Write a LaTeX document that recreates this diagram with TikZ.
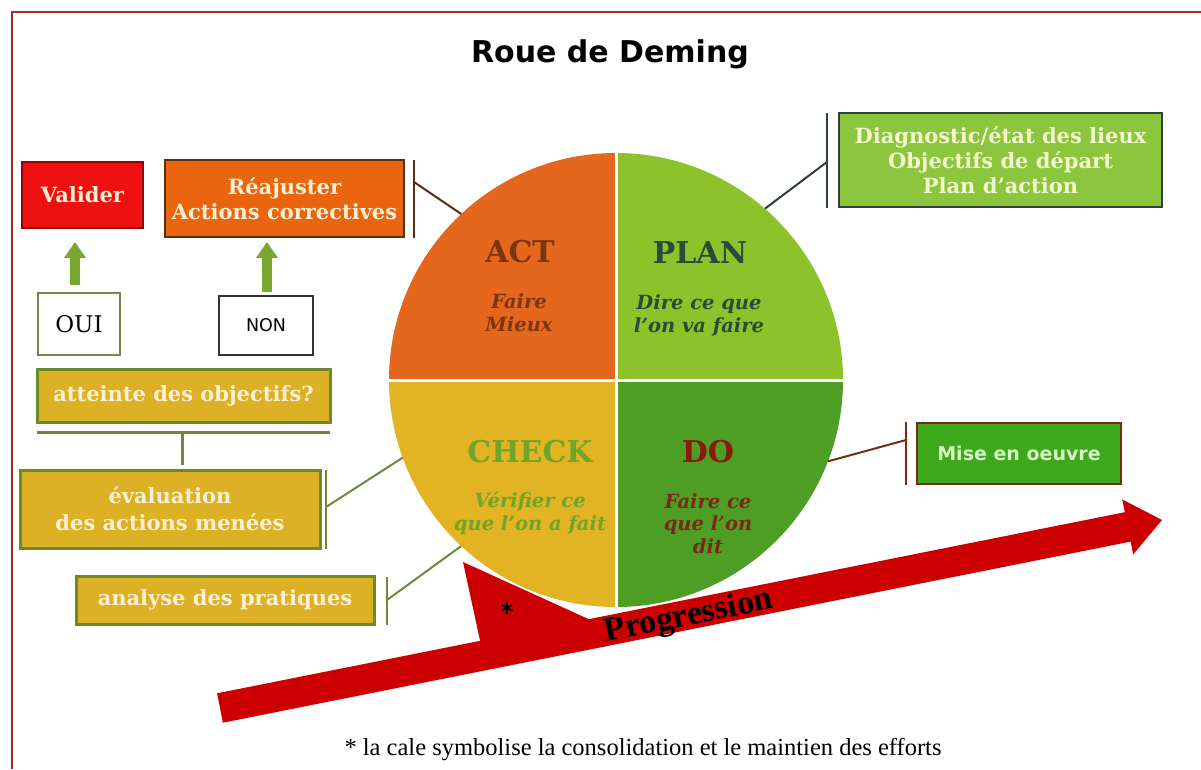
\documentclass[tikz,border=0pt]{standalone}
\usepackage{fontspec}
\setmainfont{DejaVu Serif}
\newfontfamily\djsans{DejaVu Sans}
\newfontfamily\libserif{Liberation Serif}
\usetikzlibrary{arrows.meta,calc}
\definecolor{actc}{HTML}{E5661D}
\definecolor{planc}{HTML}{8DC22A}
\definecolor{checkc}{HTML}{E2B322}
\definecolor{doc}{HTML}{4E9E25}
\definecolor{acttxt}{HTML}{7B3510}
\definecolor{plantxt}{HTML}{2B4A38}
\definecolor{checktxt}{HTML}{6FA52A}
\definecolor{dotxt}{HTML}{8B1A0A}
\definecolor{redbox}{HTML}{EE1111}
\definecolor{orangebox}{HTML}{EA6510}
\definecolor{goldbox}{HTML}{DDB125}
\definecolor{olivec}{HTML}{6A8A2C}
\definecolor{limebox}{HTML}{8CC63F}
\definecolor{darkslate}{HTML}{2F3F3A}
\definecolor{greenbox}{HTML}{3DA81A}
\definecolor{brownline}{HTML}{5A2D14}
\definecolor{maroonc}{HTML}{7A2A14}
\definecolor{creamc}{HTML}{FDF0D2}
\definecolor{diagtxt}{HTML}{F2F7CC}
\definecolor{misetxt}{HTML}{D8F5C8}
\definecolor{progred}{HTML}{CC0000}
\definecolor{framec}{HTML}{A52A2A}
\definecolor{garrowc}{HTML}{78A830}
\begin{document}
\begin{tikzpicture}[x=1pt,y=-1pt,
  basebox/.style={rectangle, inner sep=0pt, outer sep=0pt, align=center},
  boxtext/.style={text=creamc, font=\fontsize{21}{25}\selectfont\bfseries},
  goldstyle/.style={basebox, boxtext, fill=goldbox, draw=olivec, line width=3},
  bracketline/.style={line width=2.5},
  garrow/.style={draw=garrowc, line width=10, -{Triangle[width=21pt,length=16pt]}},
  wheelhead/.style={font=\fontsize{30}{34}\selectfont\bfseries, anchor=base},
  wheelsub/.style={font=\fontsize{19.5}{23}\selectfont\bfseries\itshape, anchor=base, align=center},
]
\useasboundingbox (0,0) rectangle (1201,769);
\fill[white] (0,0) rectangle (1201,769);
% frame
\draw[framec, line width=1.5] (12,769) -- (12,12) -- (1201,12);

% title
\node[font=\djsans\fontsize{30}{34}\selectfont\bfseries, anchor=base] (title) at (610,62) {Roue de Deming};

% wheel
\coordinate (wheel) at (616,380);
\coordinate (wact) at ($(wheel)+(-133:227)$);
\coordinate (wplan) at ($(wheel)+(-49:227)$);
\coordinate (weval) at ($(wheel)+(-200:227)$);
\coordinate (wana) at ($(wheel)+(-227:227)$);
\coordinate (wdo) at ($(wheel)+(-339:227)$);
\begin{scope}
  \clip (wheel) circle (227);
  \fill[actc] (380,140) rectangle (616,380);
  \fill[planc] (616,140) rectangle (850,380);
  \fill[checkc] (380,380) rectangle (616,620);
  \fill[doc] (616,380) rectangle (850,620);
  \draw[white, line width=3] (616,140) -- (616,620);
  \draw[white, line width=3] (380,380) -- (850,380);
\end{scope}

\node[wheelhead, text=acttxt] (act) at (520,262) {ACT};
\node[wheelsub, text=acttxt] (actsub) at (519,331) {Faire\\Mieux};
\node[wheelhead, text=plantxt] (plan) at (700,263) {PLAN};
\node[wheelsub, text=plantxt] (plansub) at (699,332) {Dire ce que\\l'on va faire};
\node[wheelhead, text=checktxt] (check) at (530,462) {CHECK};
\node[wheelsub, text=checktxt] (checksub) at (530,530) {Vérifier ce\\que l'on a fait};
\node[wheelhead, text=dotxt] (do) at (708,462) {DO};
\node[wheelsub, text=maroonc, font=\fontsize{19.5}{22.5}\selectfont\bfseries\itshape] (dosub) at (708,553) {Faire ce\\que l'on\\dit};

% left boxes
\node[basebox, boxtext, fill=redbox, draw=red!60!black, line width=1.5,
      minimum width=121, minimum height=66] (valider) at (82.5,195) {Valider};
\node[basebox, boxtext, fill=orangebox, draw=brownline, line width=2.5,
      minimum width=239, minimum height=77, font=\fontsize{21}{25}\selectfont\bfseries] (reaj) at (284.5,198.5) {Réajuster\\Actions correctives};
\node[basebox, draw=olivec!60!gray, line width=1.2, fill=white,
      minimum width=82, minimum height=62, font=\fontsize{23}{26}\selectfont] (oui) at (79,324) {OUI};
\node[basebox, draw=black!80, line width=1.2, fill=white,
      minimum width=94, minimum height=59, font=\djsans\fontsize{17.5}{21}\selectfont] (non) at (266,325.5) {NON};
\node[goldstyle, minimum width=293, minimum height=53] (atteinte) at (183.5,395.5) {atteinte des objectifs?};
\node[goldstyle, minimum width=300, minimum height=78, font=\fontsize{21}{27}\selectfont\bfseries] (eval) at (170,509) {évaluation\\des actions menées};
\node[goldstyle, minimum width=298, minimum height=48] (analyse) at (225,600) {analyse des pratiques};

% right boxes
\node[basebox, fill=limebox, draw=darkslate, line width=2.5, text=diagtxt,
      minimum width=323, minimum height=94, font=\fontsize{21}{25}\selectfont\bfseries] (diag) at (1000.5,160) {Diagnostic/état des lieux\\Objectifs de départ\\Plan d'action};
\node[basebox, fill=greenbox, draw=maroonc, line width=2.5, text=misetxt,
      minimum width=204, minimum height=61, font=\djsans\fontsize{19}{22}\selectfont\bfseries] (mise) at (1019,453.5) {Mise en oeuvre};

% green up arrows
\draw[garrow] ($(oui.north)+(-4,-8)$) -- ($(valider.south)+(-7.5,14)$);
\draw[garrow] ($(non.north)+(1,-4)$) -- ($(reaj.south)+(-17.5,5)$);

% bracket for Réajuster
\coordinate (rbt) at (414,160);
\coordinate (rbb) at (414,238);
\coordinate (rbm) at (414,182);
\draw[brownline, bracketline] (rbt) -- (rbb);
\draw[brownline, line width=2] (rbm) -- (wact);

% atteinte -> evaluation
\coordinate (hl1) at (37,432);
\coordinate (hl2) at (330,432);
\coordinate (hlm) at (182,432);
\coordinate (hld) at (182,465);
\draw[olivec!80!gray, line width=3] (hl1) -- (hl2);
\draw[olivec!80!gray, line width=3] (hlm) -- (hld);

% evaluation bracket
\coordinate (ebt) at (326,470);
\coordinate (ebb) at (326,549);
\coordinate (ebm) at (326,507);
\draw[olivec!80!gray, bracketline] (ebt) -- (ebb);
\draw[olivec!80!gray, line width=2] (ebm) -- (weval);

% analyse bracket
\coordinate (abt) at (387,577);
\coordinate (abb) at (387,625);
\coordinate (abm) at (387,600);
\draw[olivec!80!gray, bracketline] (abt) -- (abb);
\draw[olivec!80!gray, line width=2] (abm) -- (wana);

% diagnostic bracket
\coordinate (dbt) at (827,113);
\coordinate (dbb) at (827,208);
\coordinate (dbm) at (827,162);
\draw[darkslate, bracketline] (dbt) -- (dbb);
\draw[darkslate, line width=2] (dbm) -- (wplan);

% mise en oeuvre bracket
\coordinate (mbt) at (906,422);
\coordinate (mbb) at (906,485);
\coordinate (mbm) at (906,440);
\draw[maroonc, bracketline] (mbt) -- (mbb);
\draw[maroonc, line width=2] (mbm) -- (wdo);

% wedge (cale)
\coordinate (w1) at (463,562);
\coordinate (w2) at (481,645);
\coordinate (w3) at (595,622);
\fill[progred] (w1) -- (w2) -- (w3) -- cycle;
\node[font=\fontsize{26}{26}\selectfont\bfseries] (star) at (507,612) {*};

% progression arrow
\coordinate (pl) at (220,708);
\coordinate (pt) at (1162,520);
\fill[progred] (217.1,693.3) -- (1124.8,512.2) -- (1122.2,499.4) -- (pt)
  -- (1133.2,554.4) -- (1130.6,541.6) -- (222.9,722.7) -- cycle;
\node[font=\libserif\fontsize{34}{34}\selectfont\bfseries, rotate=11.3] (prog) at (689,617) {Progression};

% footnote
\node[font=\libserif\fontsize{24.5}{26}\selectfont, anchor=base] (foot) at (643,755) {* la cale symbolise la consolidation et le maintien des efforts};
\end{tikzpicture}
\end{document}
